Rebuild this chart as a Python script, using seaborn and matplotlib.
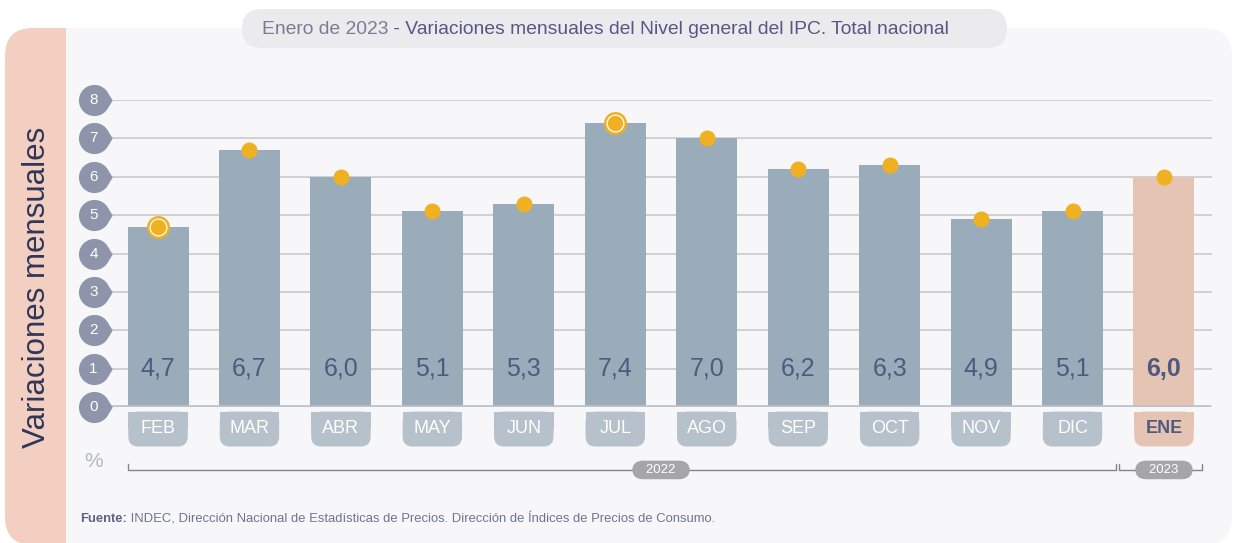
import numpy as np
import pandas as pd
import matplotlib
matplotlib.use("Agg")
import matplotlib.pyplot as plt
import seaborn as sns
from matplotlib.patches import FancyBboxPatch, Rectangle
from matplotlib.path import Path
from matplotlib.transforms import IdentityTransform, blended_transform_factory

# ---------------- data ----------------
months = ["FEB", "MAR", "ABR", "MAY", "JUN", "JUL", "AGO", "SEP", "OCT", "NOV", "DIC", "ENE"]
values = [4.7, 6.7, 6.0, 5.1, 5.3, 7.4, 7.0, 6.2, 6.3, 4.9, 5.1, 6.0]
years = ["2022"] * 11 + ["2023"]
y_ticks = [0, 1, 2, 3, 4, 5, 6, 7, 8]
title_lead = "Enero de 2023"
title_rest = " - Variaciones mensuales del Nivel general del IPC. Total nacional"
y_label = "Variaciones mensuales"
source_bold = "Fuente:"
source_rest = " INDEC, Dirección Nacional de Estadísticas de Precios. Dirección de Índices de Precios de Consumo."

# ---------------- style ----------------
sns.set_theme(style="white")
plt.rcParams["font.family"] = ["Liberation Sans", "DejaVu Sans"]

W, H = 1234, 543
fig = plt.figure(figsize=(W / 100, H / 100), dpi=100)
fig.patch.set_facecolor("white")

PANEL = "#f7f7fa"
SALMON = "#f2cfc1"
BAR = "#9aacba"
BAR_HI = "#e5c4b3"
PILL = "#b6c1cc"
ORANGE = "#efb022"
NAVY = "#4f5a7f"

idt = IdentityTransform()
# background panel + salmon strip
fig.add_artist(FancyBboxPatch((5, H - 545), 1227, 517, boxstyle="round,pad=0,rounding_size=28",
                              fc=PANEL, ec="none", transform=idt, zorder=-10))
fig.add_artist(FancyBboxPatch((5, H - 545), 90, 517, boxstyle="round,pad=0,rounding_size=28",
                              fc=SALMON, ec="none", transform=idt, zorder=-9))
fig.add_artist(Rectangle((66, H - 545), 40, 517, fc=PANEL, ec="none", transform=idt, zorder=-8))
# title pill
fig.add_artist(FancyBboxPatch((242, H - 48), 765, 39, boxstyle="round,pad=0,rounding_size=19.5",
                              fc="#ebebee", ec="none", transform=idt, zorder=-7))

# ---------------- axes ----------------
ax = fig.add_axes([110 / W, (H - 407) / H, 1102 / W, 307 / H])
ax.set_facecolor("none")
ax.set_zorder(2)

df = pd.DataFrame({"mes": months, "valor": values, "anio": years})
bar_colors = [BAR] * 11 + [BAR_HI]
sns.barplot(data=df, x="mes", y="valor", hue="mes", palette=bar_colors, legend=False,
            width=0.667, saturation=1, linewidth=0, edgecolor="none", ax=ax, zorder=3)

ax.set_xlim(-0.525, 11.525)
ax.set_ylim(0, 8)
ax.set_xticks([])
ax.set_yticks([])
ax.set_xlabel("")
ax.set_ylabel("")
for s in ax.spines.values():
    s.set_visible(False)

for t in y_ticks[1:]:
    ax.axhline(t, color="#cdcdd1", lw=1.3, zorder=1)
ax.axhline(0, color="#bcc1cb", lw=2.6, zorder=4, xmax=0.998)

# dots
xs = np.arange(len(values))
ax.scatter(xs, values, s=(16 * 0.72) ** 2, color=ORANGE, linewidths=0, zorder=5)
for i in [int(np.argmin(values)), int(np.argmax(values))]:
    ax.scatter([i], [values[i]], s=(23 * 0.72) ** 2, color=ORANGE, linewidths=0, zorder=6)
    ax.scatter([i], [values[i]], s=(18 * 0.72) ** 2, color="white", linewidths=0, zorder=7)
    ax.scatter([i], [values[i]], s=(15.5 * 0.72) ** 2, color=ORANGE, linewidths=0, zorder=8)

# value labels
for i, v in enumerate(values):
    ax.text(i, 1, f"{v:.1f}".replace(".", ","), ha="center", va="center", fontsize=18,
            color=NAVY, fontweight="bold" if i == len(values) - 1 else "normal", zorder=6)

# teardrop y tick labels
trans = blended_transform_factory(ax.transAxes, ax.transData)
ang = np.deg2rad(np.linspace(31, 329, 80))
verts = np.column_stack([np.cos(ang), np.sin(ang)])
verts = np.vstack([verts, [1.17, 0.0], verts[0]])
tear = Path(verts, closed=True)
xa = -16.5 / 1102
ax.plot([xa] * len(y_ticks), y_ticks, transform=trans, marker=tear, ms=26.2, ls="none",
        color="#8e95ab", mec="none", clip_on=False, zorder=6)
for t in y_ticks:
    ax.text(xa, t, str(t), transform=trans, ha="center", va="center", color="white",
            fontsize=11, zorder=7, clip_on=False)

# month pills under bars
p0 = ax.transData.transform((0, 0))
p1 = ax.transData.transform((1, 1))
xpx, ypx = p1[0] - p0[0], p1[1] - p0[1]
aspect = xpx / ypx
pill_top, pill_bot, pw = -0.12, -1.03, 0.65
r = 10 / xpx
for i, m in enumerate(months):
    last = i == len(months) - 1
    fc = BAR_HI if last else PILL
    ax.add_patch(FancyBboxPatch((i - pw / 2, pill_bot), pw, pill_top - pill_bot,
                                boxstyle=f"round,pad=0,rounding_size={r}", mutation_aspect=aspect,
                                fc=fc, ec="none", clip_on=False, zorder=3))
    ax.add_patch(Rectangle((i - pw / 2, (pill_top + pill_bot) / 2), pw, (pill_top - pill_bot) / 2,
                           fc=fc, ec="none", clip_on=False, zorder=3))
    ax.text(i, -0.57, m, ha="center", va="center", fontsize=13,
            color=NAVY if last else "white", fontweight="bold" if last else "normal",
            clip_on=False, zorder=4)

# year brackets
y_br, tick = -1.64, 0.16
for x0, x1 in [(-0.33, 10.48), (10.51, 11.42)]:
    ax.plot([x0, x0, x1, x1], [y_br + tick, y_br, y_br, y_br + tick], color="#85858c", lw=1,
            clip_on=False, zorder=3)
for xc, lab in [(5.5, "2022"), (11.0, "2023")]:
    ax.text(xc, y_br, f"   {lab}   ", ha="center", va="center", fontsize=9.5, color="white",
            bbox=dict(boxstyle="round,pad=0.25,rounding_size=0.82", fc="#a6a6aa", ec="none"),
            clip_on=False, zorder=6)

ax.text(xa, -1.43, "%", transform=trans, ha="center", va="center", fontsize=15,
        color="#b4b8c6", clip_on=False)

# ---------------- texts ----------------
fig.text(37 / W, 1 - 287 / H, y_label, rotation=90, ha="center", va="center", fontsize=22.5,
         color="#2f3659")

t1 = fig.text(262 / W, 1 - 29 / H, title_lead, fontsize=13.9, color="#7d7a97", ha="left", va="center")
ax.annotate(title_rest, xy=(1, 0.5), xycoords=t1, ha="left", va="center", fontsize=13.9,
            color="#5a5584", annotation_clip=False)

t3 = fig.text(80 / W, 1 - 519 / H, source_bold, fontsize=9.4, fontweight="bold", color="#5b6283",
              ha="left", va="center")
ax.annotate(source_rest, xy=(1, 0.5), xycoords=t3, ha="left", va="center", fontsize=9.4,
            color="#6e7390", annotation_clip=False)

fig.savefig("out.png", dpi=100)
